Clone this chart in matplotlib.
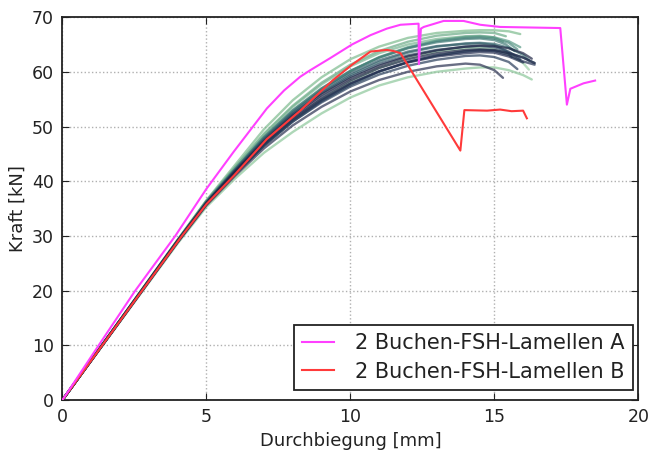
import matplotlib
matplotlib.use("Agg")
import matplotlib.pyplot as plt

# --- data ---------------------------------------------------------------
x_a = [0, 1.26, 2.53, 3.92, 5.0, 5.95, 7.1, 7.7, 8.26, 8.61, 9.3, 10.06,
       10.7, 11.27, 11.74, 12.37, 12.38, 12.45, 12.55, 13.24, 13.93, 14.51,
       15.2, 17.29, 17.52, 17.64, 18.1, 18.5]
y_a = [0, 10.0, 20.0, 30.0, 38.6, 45.4, 53.3, 56.6, 59.1, 60.3, 62.5, 65.0,
       66.7, 67.9, 68.6, 68.8, 61.4, 67.9, 68.2, 69.3, 69.3, 68.6,
       68.2, 68.0, 54.0, 56.9, 57.9, 58.4]

x_b = [0, 4.15, 5.0, 5.95, 7.1, 8.26, 9.4, 10.06, 10.7, 11.27, 11.5, 11.74,
       13.82, 13.96, 14.75, 15.2, 15.6, 16.0, 16.13]
y_b = [0, 30.0, 35.8, 41.0, 47.7, 52.9, 58.5, 61.3, 63.7, 64.0, 63.8, 63.4,
       45.6, 53.0, 52.9, 53.1, 52.8, 52.9, 51.5]

bundle_x = [0, 4, 5, 6, 7, 8, 9, 10, 11, 12, 13, 14]
bundle_y = [
    [0, 28.6, 35.3, 40.5, 45.2, 49.0, 52.4, 55.3, 57.5, 59.0, 60.0, 60.6],
    [0, 29.3, 36.5, 43.0, 49.5, 54.8, 59.0, 62.3, 64.6, 66.2, 67.1, 67.5],
    [0, 29.2, 36.4, 42.6, 48.7, 53.8, 58.0, 61.3, 63.8, 65.5, 66.6, 67.1],
    [0, 29.2, 36.4, 42.5, 48.5, 53.6, 57.7, 61.0, 63.4, 65.0, 66.0, 66.5],
    [0, 28.9, 35.7, 41.2, 46.6, 51.1, 55.0, 58.2, 60.7, 62.5, 63.7, 64.3],
    [0, 29.1, 36.2, 42.1, 47.8, 52.7, 56.8, 60.1, 62.7, 64.5, 65.7, 66.4],
    [0, 29.2, 36.2, 42.2, 48.0, 52.9, 56.9, 60.1, 62.6, 64.4, 65.6, 66.2],
    [0, 29.2, 36.3, 42.3, 48.1, 53.0, 57.0, 60.2, 62.6, 64.3, 65.4, 66.0],
    [0, 29.0, 36.0, 41.8, 47.4, 52.2, 56.2, 59.4, 61.8, 63.5, 64.6, 65.2],
    [0, 29.1, 36.1, 42.1, 47.8, 52.6, 56.6, 59.7, 62.1, 63.7, 64.7, 65.1],
    [0, 28.9, 35.8, 41.4, 46.5, 50.9, 54.6, 57.6, 60.0, 61.8, 63.0, 63.8],
    [0, 29.1, 36.1, 42.0, 47.6, 52.3, 56.1, 59.1, 61.4, 63.0, 64.0, 64.6],
    [0, 28.9, 35.8, 41.3, 46.5, 50.9, 54.4, 57.3, 59.5, 61.1, 62.2, 62.9],
    [0, 29.0, 35.9, 41.5, 46.7, 51.2, 54.8, 57.8, 60.1, 61.8, 63.0, 63.7],
    [0, 29.0, 35.9, 41.6, 46.9, 51.4, 55.0, 57.9, 60.1, 61.7, 62.8, 63.4],
    [0, 29.0, 36.0, 41.7, 47.1, 51.7, 55.4, 58.4, 60.7, 62.3, 63.4, 64.0],
    [0, 28.8, 35.6, 41.0, 46.0, 50.2, 53.6, 56.4, 58.5, 60.0, 61.0, 61.5],
    [0, 29.1, 36.0, 41.8, 47.3, 52.0, 55.8, 58.8, 61.1, 62.8, 63.9, 64.6],
]
tail_x = [
    [14.5, 15.0, 15.5, 16.0, 16.3],
    [14.5, 15.0, 15.5, 15.9],
    [14.5, 15.0, 15.4],
    [14.5, 15.0, 15.3],
    [14.5, 15.0, 15.5, 16.0, 16.2],
    [14.5, 15.0, 15.5, 15.9],
    [14.5, 15.0, 15.5, 15.8],
    [14.5, 15.0, 15.4, 15.7],
    [14.5, 15.0, 15.5, 16.0, 16.2],
    [14.5, 15.0, 15.4, 15.6],
    [14.5, 15.0, 15.5, 16.0, 16.4],
    [14.5, 15.0, 15.5, 15.9],
    [14.5, 15.0, 15.5, 15.8],
    [14.5, 15.0, 15.5, 16.0, 16.4],
    [14.5, 15.0, 15.5, 16.0],
    [14.5, 15.0, 15.5, 16.0, 16.4],
    [14.5, 15.0, 15.3],
    [14.5, 15.0, 15.5, 16.0, 16.3],
]
tail_y = [
    [60.8, 60.8, 60.3, 59.4, 58.6],
    [67.6, 67.6, 67.4, 66.9],
    [67.2, 67.1, 66.5],
    [66.6, 66.3, 65.5],
    [64.4, 64.1, 63.2, 61.6, 60.4],
    [66.5, 66.3, 65.6, 64.5],
    [66.3, 66.1, 65.3, 64.1],
    [66.1, 65.8, 65.0, 63.8],
    [65.3, 65.1, 64.4, 63.1, 62.1],
    [65.2, 64.9, 63.9, 62.7],
    [64.0, 63.9, 63.5, 62.6, 61.6],
    [64.7, 64.5, 63.7, 62.3],
    [63.0, 62.7, 61.8, 60.5],
    [63.9, 63.8, 63.1, 61.9, 61.3],
    [63.6, 63.5, 62.8, 61.7],
    [64.1, 64.0, 63.4, 62.6, 61.6],
    [61.3, 60.3, 58.9],
    [64.8, 64.7, 64.3, 63.4, 62.4],
]
bundle_colors = ["#8cc79a", "#7dbb8e", "#6aaa86", "#79b592", "#9fd0a8",
                 "#5a9a86", "#4f8c80", "#437c78", "#3c6d72", "#37606c",
                 "#2f5266", "#2b4660", "#283c5a", "#253455", "#232e50",
                 "#222a4a", "#2a3050", "#1f2545"]

label_a = "2 Buchen-FSH-Lamellen A"
label_b = "2 Buchen-FSH-Lamellen B"
x_label = "Durchbiegung [mm]"
y_label = "Kraft [kN]"
x_ticks = [0, 5, 10, 15, 20]
y_ticks = [0, 10, 20, 30, 40, 50, 60, 70]

# --- plot ---------------------------------------------------------------
fig = plt.figure(figsize=(6.5, 4.5), dpi=100)
ax = fig.add_axes([0.096, 0.111, 0.886, 0.851])

for ys, tx, ty, c in zip(bundle_y, tail_x, tail_y, bundle_colors):
    ax.plot(bundle_x + tx, ys + ty, color=c, lw=1.7, alpha=0.7,
            solid_capstyle="round")

ax.plot(x_b, y_b, color="#ff3a3a", lw=1.5, label=label_b, zorder=5)
ax.plot(x_a, y_a, color="#ff40ff", lw=1.5, label=label_a, zorder=6)

ax.set_xlim(0, 20)
ax.set_ylim(0, 70)
ax.set_xticks(x_ticks)
ax.set_yticks(y_ticks)
ax.grid(True, color="#b0b0b0", linestyle=":", linewidth=1.0)
ax.tick_params(direction="in", top=True, right=True, length=5,
               labelsize=12.5, colors="#222222", pad=6)
for s in ax.spines.values():
    s.set_linewidth(1.3)
    s.set_color("#222222")
ax.set_xlabel(x_label, fontsize=13, color="#222222")
ax.set_ylabel(y_label, fontsize=13, color="#222222")

h, l = ax.get_legend_handles_labels()
leg = ax.legend(h[::-1], l[::-1], loc="lower right",
                bbox_to_anchor=(0.991, 0.026), borderaxespad=0,
                fontsize=15, fancybox=False, framealpha=1,
                edgecolor="#222222", handlelength=1.55, handletextpad=1.0,
                labelspacing=0.4, borderpad=0.4)
leg.get_frame().set_linewidth(1.3)
for t in leg.get_texts():
    t.set_color("#222222")

fig.savefig("out.png", dpi=100)
